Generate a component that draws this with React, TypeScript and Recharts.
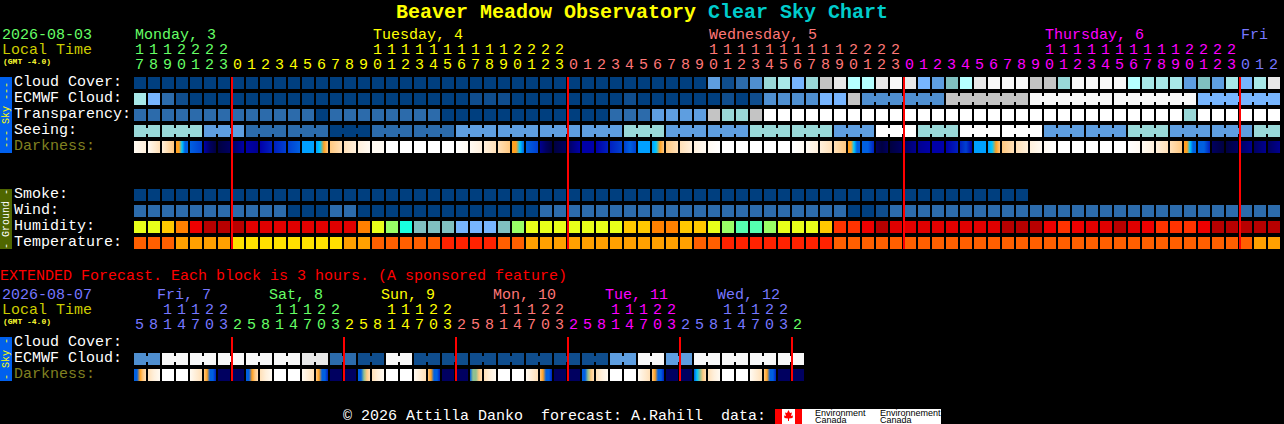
import { Scatter, ScatterChart, XAxis, YAxis } from "recharts";

const FONT = "'Liberation Mono', monospace";

// colour scales, a block value is an index into one of these
const skyColors = [
  "#003f7f", "#0f4d8d", "#2c6bab", "#4f8fd0", "#5e9ee0", "#77b5fe", "#80c0c0",
  "#99d8d8", "#a8e8e8", "#b5ffff", "#c4c4c4", "#e8e8e8", "#f8f8f8", "#ffffff",
];
const humidityColors = [
  "#b80000", "#e00000", "#ee0000", "#ff3300", "#ff8000", "#ffc800",
  "#e8ff1a", "#99ff66", "#55ffb0", "#19ffe0", "#80c0c0", "#77b5fe",
];
const temperatureColors = ["#ff2200", "#ff5f00", "#ffa000", "#ffe000"];
const darknessColors = [
  "#ffffff", "#fffaf2", "#fff0dc", "#ffe0b8", "#ffc880", "#ffa020", "#00c8ff", "#00a0ff",
  "#0060e0", "#0040d0", "#0020c0", "#0000a8", "#000090", "#000060", "#000040", "#90c090",
];

const cloudCover = [
  0, 0, 0, 0, 0, 0, 0, 0, 0, 0,
  0, 0, 0, 0, 0, 0, 0, 0, 0, 0,
  0, 0, 0, 0, 0, 0, 0, 0, 0, 0,
  0, 0, 0, 0, 0, 0, 0, 0, 0, 0,
  0, 4, 1, 2, 3, 7, 8, 5, 7, 10,
  11, 9, 9, 11, 12, 11, 5, 4, 6, 9,
  11, 12, 12, 12, 10, 10, 7, 12, 12, 12,
  12, 9, 8, 8, 8, 4, 6, 4, 8, 5,
  8, 11,
];
const ecmwfCloud = [
  8, 5, 2, 1, 0, 0, 0, 0, 0, 0,
  0, 0, 0, 0, 0, 0, 0, 0, 0, 0,
  0, 0, 0, 0, 1, 1, 1, 0, 0, 0,
  0, 0, 0, 0, 0, 1, 0, 0, 0, 0,
  0, 0, 1, 0, 1, 3, 3, 3, 3, 5,
  5, 10, 3, 3, 3, 3, 3, 3, 10, 10,
  10, 10, 10, 10, 12, 12, 12, 12, 12, 12,
  12, 12, 12, 12, 12, 12, 5, 5, 5, 5,
  5, 5,
];
const transparency = [
  2, 2, 2, 2, 2, 2, 2, 2, 2, 2,
  2, 2, 2, 0, 2, 2, 2, 2, 2, 2,
  2, 2, 0, 0, 0, 0, 0, 0, 0, 0,
  0, 0, 0, 0, 2, 2, 2, 4, 4, 4,
  4, 10, 7, 7, 10, 13, 13, 13, 13, 13,
  13, 13, 13, 13, 13, 13, 13, 13, 13, 13,
  13, 13, 13, 13, 13, 13, 13, 13, 13, 13,
  13, 13, 13, 13, 13, 7, 13, 13, 13, 13,
  13, 13,
];
const seeing = [
  7, 7, 7, 7, 7, 4, 4, 4, 2, 2,
  2, 2, 2, 2, 0, 0, 0, 2, 2, 2,
  2, 2, 2, 4, 4, 4, 4, 4, 4, 4,
  4, 4, 4, 4, 4, 7, 7, 7, 4, 4,
  4, 4, 4, 4, 7, 7, 7, 7, 7, 7,
  4, 4, 4, 13, 13, 13, 7, 7, 7, 13,
  13, 13, 13, 13, 13, 4, 4, 4, 4, 4,
  4, 7, 7, 7, 4, 4, 4, 4, 4, 4,
  7, 7,
];
const darkness = [
  [1, 2], [1, 3], [2, 4], [5, 5, 6, 8, 8], [8, 9], [11, 13, 14], [14, 13], [13, 11], [11, 12], [11, 10],
  [10, 9], [9, 8], [7, 7], [7, 6, 5, 4], [4, 3], [3, 2], [2, 1], [1, 1], [0, 0], [0, 0],
  [0, 0], [0, 0], [0, 0], [0, 1], [1, 2], [2, 3], [3, 4], [5, 5, 6, 8], [8, 9], [12, 13, 14],
  [14, 13], [13, 11], [11, 11], [11, 10], [10, 9], [9, 8, 9], [7, 7], [7, 6, 5, 4], [4, 3], [3, 2],
  [2, 1], [1, 0], [0, 0], [0, 0], [0, 0], [0, 0], [0, 0], [0, 1], [1, 2], [2, 3],
  [3, 4], [5, 5, 6, 8, 8], [8, 8, 10], [13, 14, 13], [14, 13], [13, 12], [12, 11], [11, 11], [11, 10], [10, 9, 11],
  [7, 7], [7, 6, 5, 4], [4, 3], [3, 2], [2, 1], [1, 0], [0, 0], [0, 0], [0, 0], [0, 0],
  [0, 0], [0, 1], [1, 2], [2, 3], [3, 4], [5, 5, 6, 8, 8], [8, 8, 10], [13, 14], [14, 13], [13, 12],
  [13, 12], [13, 12],
];
const smoke = [
  0, 0, 0, 0, 0, 0, 0, 0, 0, 0,
  0, 0, 0, 0, 0, 0, 0, 0, 0, 0,
  0, 0, 0, 0, 0, 0, 0, 0, 0, 0,
  0, 0, 0, 0, 0, 0, 0, 0, 0, 0,
  0, 0, 0, 0, 0, 0, 0, 0, 0, 0,
  0, 0, 0, 0, 0, 0, 0, 0, 0, 0,
  0, 0, 0, 0,
];
const wind = [
  2, 2, 2, 2, 2, 2, 2, 2, 2, 2,
  2, 0, 0, 0, 2, 2, 0, 0, 0, 0,
  0, 0, 0, 0, 0, 0, 0, 0, 0, 2,
  2, 2, 2, 2, 2, 2, 2, 2, 2, 2,
  2, 2, 2, 2, 2, 2, 2, 2, 2, 2,
  2, 0, 0, 1, 2, 2, 2, 2, 2, 2,
  2, 2, 2, 2, 2, 2, 2, 2, 2, 2,
  2, 2, 2, 2, 2, 2, 2, 2, 2, 2,
  2, 2,
];
const humidity = [
  6, 6, 5, 4, 2, 0, 0, 0, 1, 1,
  1, 1, 1, 1, 1, 1, 4, 6, 7, 9,
  10, 10, 10, 11, 11, 11, 10, 7, 6, 6,
  6, 6, 6, 6, 6, 5, 5, 4, 4, 5,
  5, 6, 7, 8, 8, 7, 6, 6, 6, 5,
  3, 3, 2, 0, 1, 1, 1, 1, 1, 1,
  1, 1, 0, 0, 0, 2, 3, 2, 1, 1,
  0, 1, 2, 3, 3, 3, 2, 0, 0, 0,
  0, 0,
];
const temperature = [
  1, 1, 1, 2, 2, 2, 2, 3, 3, 3,
  3, 3, 3, 3, 3, 2, 2, 1, 1, 1,
  1, 1, 0, 0, 0, 0, 1, 1, 2, 2,
  2, 2, 2, 2, 2, 2, 2, 2, 2, 2,
  1, 1, 0, 0, 0, 0, 0, 0, 0, 0,
  1, 1, 1, 1, 1, 1, 1, 1, 1, 1,
  1, 1, 1, 1, 1, 1, 1, 1, 1, 1,
  1, 1, 1, 1, 1, 1, 1, 1, 1, 1,
  2, 2,
];
const hours = [
  17, 18, 19, 20, 21, 22, 23,
  0, 1, 2, 3, 4, 5, 6, 7, 8, 9, 10, 11, 12, 13, 14, 15, 16, 17, 18, 19, 20, 21, 22, 23,
  0, 1, 2, 3, 4, 5, 6, 7, 8, 9, 10, 11, 12, 13, 14, 15, 16, 17, 18, 19, 20, 21, 22, 23,
  0, 1, 2, 3, 4, 5, 6, 7, 8, 9, 10, 11, 12, 13, 14, 15, 16, 17, 18, 19, 20, 21, 22, 23,
  0, 1, 2,
];
const dayNames = ["Monday, 3", "Tuesday, 4", "Wednesday, 5", "Thursday, 6", "Fri"];
const dayLabelAt = [0, 17, 41, 65, 79];
const dayStarts = [0, 7, 31, 55, 79];
const dayColors = ["#66ff66", "#ffff00", "#ff7777", "#ff00ff", "#7777ff"];
const midnights = [7, 31, 55, 79];

// extended forecast, 3 hour blocks
const ecmwfExtended = [3, 12, 12, 12, 12, 12, 11, 2, 1, 12, 1, 1, 1, 1, 1, 1, 1, 4, 12, 4, 12, 12, 12, 12];
const darknessExtended = [
  [8, 8, 5, 4, 3], [3, 2, 1], [0, 0], [0, 0], [1, 3], [4, 5, 8, 8, 10], [13, 13], [13, 13],
  [8, 8, 5, 4, 3], [3, 2, 1], [0, 0], [0, 0], [1, 3], [4, 5, 8, 8, 10], [13, 13], [13, 13],
  [8, 8, 15, 4, 3], [3, 2, 1], [0, 0], [0, 0], [1, 3], [4, 5, 8, 8, 10], [13, 13], [13, 13],
  [8, 15, 15, 4, 3], [3, 2, 1], [0, 0], [0, 0], [1, 3], [4, 5, 8, 8, 10], [13, 13], [13, 13],
  [8, 8, 15, 4, 3], [3, 2, 1], [0, 0], [0, 0], [1, 3], [4, 5, 8, 8, 10], [13, 13], [13, 13],
  [8, 6, 15, 4, 3], [3, 2, 1], [0, 0], [0, 0], [1, 3], [4, 5, 8, 8, 10], [13, 13], [13, 13],
];
const hoursExtended = [
  5, 8, 11, 14, 17, 20, 23,
  2, 5, 8, 11, 14, 17, 20, 23,
  2, 5, 8, 11, 14, 17, 20, 23,
  2, 5, 8, 11, 14, 17, 20, 23,
  2, 5, 8, 11, 14, 17, 20, 23,
  2, 5, 8, 11, 14, 17, 20, 23,
  2,
];
const extendedNames = ["Fri, 7", "Sat, 8", "Sun, 9", "Mon, 10", "Tue, 11", "Wed, 12"];
const extendedLabelAt = [2, 10, 18, 26, 34, 42];
const extendedStarts = [0, 7, 15, 23, 31, 39, 47];
const extendedColors = ["#7777ff", "#66ff66", "#ffff00", "#ff7777", "#ff00ff", "#7777ff", "#66ff66"];
const extendedMidnights = [7, 15, 23, 31, 39, 47];

type Point = { col: number; row: number; color?: string; stops?: string[]; joined?: boolean; id: string };

function blockPoints(values: number[], row: number, colors: string[], joined?: (i: number) => boolean): Point[] {
  return values.map((v, i) => ({
    col: i + 0.5,
    row: row + 0.5,
    color: colors[v],
    joined: joined ? joined(i) : false,
    id: `b${row}-${i}`,
  }));
}

function gradientPoints(values: number[][], row: number, prefix: string): Point[] {
  return values.map((levels, i) => ({
    col: i + 0.5,
    row: row + 0.5,
    stops: levels.map((l) => darknessColors[l]),
    id: `${prefix}-${i}`,
  }));
}

function Block(props: any) {
  const { cx, cy, payload } = props;
  const x = cx - 7;
  const y = cy - 8;
  if (payload.stops) {
    const n = payload.stops.length - 1;
    return (
      <g>
        <defs>
          <linearGradient id={payload.id}>
            {payload.stops.map((c: string, i: number) => (
              <stop key={i} offset={i / n} stopColor={c} />
            ))}
          </linearGradient>
        </defs>
        <rect x={x} y={y} width={12} height={12} fill={`url(#${payload.id})`} />
      </g>
    );
  }
  return (
    <g>
      <rect x={x} y={y} width={12} height={12} fill={payload.color} />
      {/* longer forecast steps are joined by a small bridge */}
      {payload.joined && <rect x={x + 12} y={y + 3} width={2} height={6} fill={payload.color} />}
    </g>
  );
}

function colorFor(i: number, starts: number[], colors: string[]) {
  let c = colors[0];
  starts.forEach((s, k) => {
    if (i >= s) c = colors[k];
  });
  return c;
}

function HourTick(props: any) {
  const { x, payload, values, starts, colors, names, labelAt, baseline, labelShift } = props;
  const i = Math.floor(payload.value);
  const h = values[i];
  const color = colorFor(i, starts, colors);
  const label = labelAt.indexOf(i);
  const px = x - 1.5;
  return (
    <g fontFamily={FONT} fontSize={15}>
      {label >= 0 && (
        <text x={x - labelShift} y={baseline} fill={color}>
          {names[label]}
        </text>
      )}
      {h >= 10 && (
        <text x={px} y={baseline + 15} fill={color} textAnchor="middle">
          {Math.floor(h / 10)}
        </text>
      )}
      <text x={px} y={baseline + 30} fill={color} textAnchor="middle">
        {h % 10}
      </text>
    </g>
  );
}

function RowLabel(props: any) {
  const { y, payload, labels } = props;
  const row = labels[Math.floor(payload.value)];
  if (!row) return null;
  return (
    <text x={14} y={y + 1} fontFamily={FONT} fontSize={15} fill={row === "Darkness:" ? "#808020" : "#ffffff"}>
      {row}
    </text>
  );
}

const topRows = [
  "Cloud Cover:", "ECMWF Cloud:", "Transparency:", "Seeing:", "Darkness:", "", "",
  "Smoke:", "Wind:", "Humidity:", "Temperature:",
];
const extRows = ["Cloud Cover:", "ECMWF Cloud:", "Darkness:"];

const topSeries: Point[][] = [
  blockPoints(cloudCover, 0, skyColors),
  blockPoints(ecmwfCloud, 1, skyColors, (i) => i >= 52 && (i - 52) % 6 !== 5),
  blockPoints(transparency, 2, skyColors),
  blockPoints(seeing, 3, skyColors, (i) => i % 3 !== 1 && i < 81),
  gradientPoints(darkness, 4, "dark"),
  blockPoints(smoke, 7, skyColors),
  blockPoints(wind, 8, skyColors),
  blockPoints(humidity, 9, humidityColors),
  blockPoints(temperature, 10, temperatureColors),
];
const extSeries: Point[][] = [
  blockPoints(ecmwfExtended.flatMap((v) => [v, v]), 1, skyColors, (i) => i % 2 === 0),
  gradientPoints(darknessExtended, 2, "darkx"),
];

function BlockChart({ height, marginTop, bottom, rowCount, columns, series, rows, lines, tickProps }: any) {
  const colTicks = Array.from({ length: columns }, (_, i) => i + 0.5);
  const rowTicks = rows.map((_: string, i: number) => i + 0.5);
  const plotHeight = height - marginTop - 30 - bottom;
  return (
    <ScatterChart
      width={1284}
      height={height}
      margin={{ top: marginTop, right: 2, bottom, left: 0 }}
      style={{ position: "absolute", left: 0, top: 0 }}
    >
      <XAxis
        type="number"
        dataKey="col"
        orientation="top"
        domain={[0, 82]}
        ticks={colTicks}
        interval={0}
        height={30}
        axisLine={false}
        tickLine={false}
        tick={(p: any) => <HourTick {...p} {...tickProps} />}
      />
      <YAxis
        type="number"
        dataKey="row"
        reversed
        domain={[0, rowCount]}
        ticks={rowTicks}
        interval={0}
        width={134}
        axisLine={false}
        tickLine={false}
        tick={(p: any) => <RowLabel {...p} labels={rows} />}
      />
      {series.map((pts: Point[], i: number) => (
        <Scatter key={i} data={pts} shape={Block} isAnimationActive={false} />
      ))}
      {/* midnight markers come last so they sit on top of the blocks */}
      <Scatter
        data={lines.map((x: number) => ({ col: x, row: rowCount / 2 }))}
        shape={(p: any) => (
          <rect x={p.cx - 1} y={p.cy - plotHeight / 2} width={2} height={plotHeight} fill="#ff0000" />
        )}
        isAnimationActive={false}
      />
    </ScatterChart>
  );
}

function SideBar({ y, height, fill, color, label }: any) {
  const mid = y + height / 2;
  return (
    <g>
      <rect x={0} y={y} width={12} height={height} fill={fill} />
      <text
        x={9}
        y={mid}
        fill={color}
        fontSize={10}
        textAnchor="middle"
        transform={`rotate(-90 9 ${mid})`}
      >
        {label}
      </text>
    </g>
  );
}

function Overlay() {
  return (
    <svg
      width={1284}
      height={424}
      fontFamily={FONT}
      fontSize={15}
      style={{ position: "absolute", left: 0, top: 0 }}
    >
      <text x={396} y={18} fontSize={20} fontWeight="bold" fill="#ffff00">
        Beaver Meadow Observatory
        <tspan fill="#00cccc"> Clear Sky Chart</tspan>
      </text>
      <text x={2} y={39} fill="#66ff66">2026-08-03</text>
      <text x={2} y={54} fill="#cccc00">Local Time</text>
      <text x={3} y={64} fontSize={8} fontWeight="bold" fill="#ffff33">(GMT -4.0)</text>
      <SideBar y={77} height={76} fill="#0060ee" color="#ffff00" label="--- Sky ---" />
      <SideBar y={189} height={60} fill="#4f6600" color="#ffffff" label="- Ground -" />

      <text x={0} y={280} fill="#ff0000">
        EXTENDED Forecast. Each block is 3 hours. (A sponsored feature)
      </text>
      <text x={2} y={299} fill="#7777ff">2026-08-07</text>
      <text x={2} y={314} fill="#cccc00">Local Time</text>
      <text x={3} y={324} fontSize={8} fontWeight="bold" fill="#ffff33">(GMT -4.0)</text>
      <SideBar y={337} height={44} fill="#0060ee" color="#ffff00" label="- Sky -" />

      <text x={343} y={420} fill="#ffffff">
        {"© 2026 Attilla Danko\u00a0\u00a0forecast: A.Rahill\u00a0\u00a0data:"}
      </text>
      <rect x={775} y={409} width={166} height={15} fill="#ffffff" />
      <rect x={775} y={409} width={7} height={15} fill="#ff0000" />
      <rect x={795} y={409} width={7} height={15} fill="#ff0000" />
      <polygon
        points="788.5,410 790,413 792,412.5 791,416 793,415.5 792.5,418 789,418.5 789,421 788,421 788,418.5 784.5,418 784,415.5 786,416 785,412.5 787,413"
        fill="#ff0000"
      />
      <g fontSize={9} fill="#000000" fontFamily="'Liberation Sans', sans-serif">
        <text x={815} y={415.5}>Environment</text>
        <text x={815} y={423}>Canada</text>
        <text x={880} y={415.5}>Environnement</text>
        <text x={880} y={423}>Canada</text>
      </g>
    </svg>
  );
}

export default function App() {
  return (
    <div style={{ position: "absolute", left: 0, top: 0, width: 1284, height: 424, background: "#000000", overflow: "hidden" }}>
      <Overlay />
      <BlockChart
        height={252}
        marginTop={47}
        bottom={3}
        rowCount={10.75}
        columns={82}
        series={topSeries}
        rows={topRows}
        lines={midnights}
        tickProps={{ values: hours, starts: dayStarts, colors: dayColors, names: dayNames, labelAt: dayLabelAt, baseline: 39, labelShift: 6 }}
      />
      <BlockChart
        height={384}
        marginTop={307}
        bottom={3}
        rowCount={2.75}
        columns={48}
        series={extSeries}
        rows={extRows}
        lines={extendedMidnights}
        tickProps={{ values: hoursExtended, starts: extendedStarts, colors: extendedColors, names: extendedNames, labelAt: extendedLabelAt, baseline: 299, labelShift: 12 }}
      />
    </div>
  );
}
